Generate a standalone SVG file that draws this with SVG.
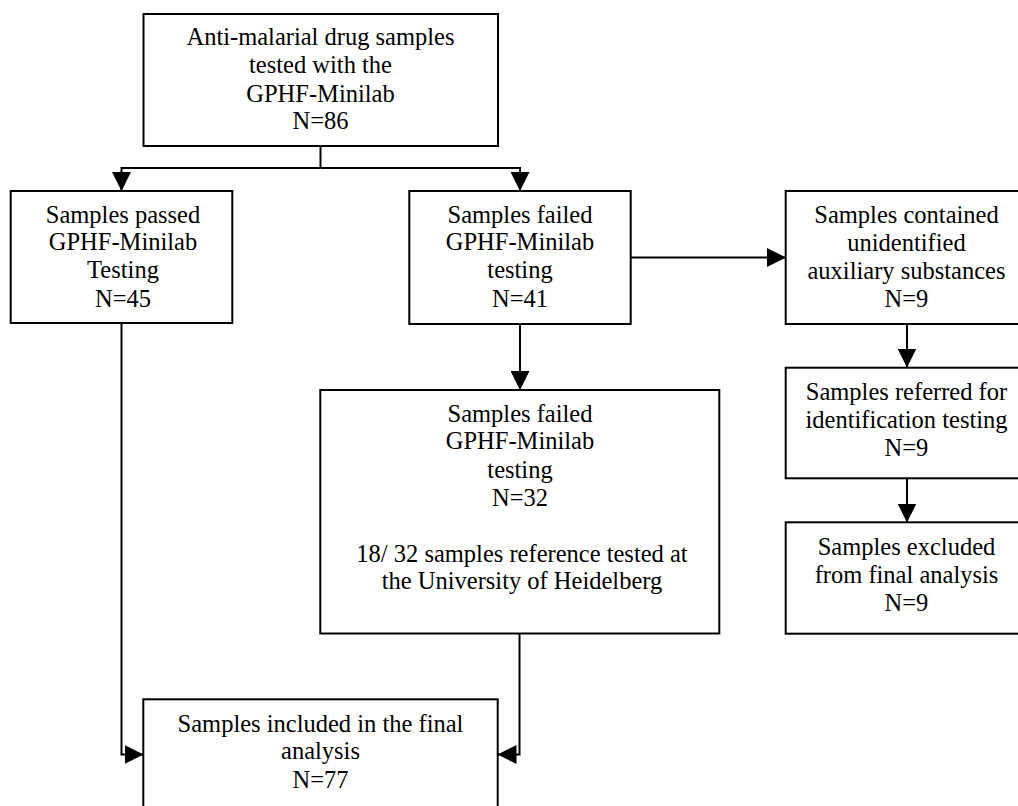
<svg xmlns="http://www.w3.org/2000/svg" width="1018" height="806" viewBox="0 0 1018 806">
<style>
.box{fill:#fff;stroke:#000;stroke-width:2}
.t{font-family:"Liberation Serif","Times New Roman",serif;font-size:24.5px;fill:#000;text-anchor:middle}
.c{fill:none;stroke:#000;stroke-width:2}
</style>
<defs>
<marker id="ah" viewBox="0 0 19 19" markerWidth="19" markerHeight="19" refX="19" refY="9.5" orient="auto" markerUnits="userSpaceOnUse">
<path d="M0,0 L19,9.5 L0,19 z" fill="#000"/>
</marker>
</defs>
<rect width="1018" height="806" fill="#fff"/>
<g id="connectors">
<path class="c" d="M320.5,146 V168"/>
<path class="c" d="M320.5,168 H121.5 V191" marker-end="url(#ah)"/>
<path class="c" d="M320.5,168 H520 V191" marker-end="url(#ah)"/>
<path class="c" d="M631,257.5 H786" marker-end="url(#ah)"/>
<path class="c" d="M520,324 V390" marker-end="url(#ah)"/>
<path class="c" d="M907,324 V367.5" marker-end="url(#ah)"/>
<path class="c" d="M907,478.5 V522.5" marker-end="url(#ah)"/>
<path class="c" d="M121.5,323 V754.5 H143.5" marker-end="url(#ah)"/>
<path class="c" d="M519.5,633.5 V754.5 H497.5" marker-end="url(#ah)"/>
</g>
<g id="top">
<rect class="box" x="143.5" y="14" width="354.5" height="132"/>
<text class="t" x="320.5" y="45">Anti-malarial drug samples</text>
<text class="t" x="320.5" y="73">tested with the</text>
<text class="t" x="320.5" y="101.5">GPHF-Minilab</text>
<text class="t" x="320.5" y="129">N=86</text>
</g>
<g id="passed">
<rect class="box" x="10.7" y="191" width="221.6" height="132"/>
<text class="t" x="123" y="222.7">Samples passed</text>
<text class="t" x="123" y="250">GPHF-Minilab</text>
<text class="t" x="123" y="278.3">Testing</text>
<text class="t" x="123" y="306.7">N=45</text>
</g>
<g id="failed">
<rect class="box" x="409.3" y="191" width="221.4" height="133"/>
<text class="t" x="520" y="222.7">Samples failed</text>
<text class="t" x="520" y="250">GPHF-Minilab</text>
<text class="t" x="520" y="278.3">testing</text>
<text class="t" x="520" y="306.7">N=41</text>
</g>
<g id="auxiliary">
<rect class="box" x="785.7" y="191" width="242" height="133"/>
<text class="t" x="906.5" y="223.3">Samples contained</text>
<text class="t" x="906.5" y="250.7">unidentified</text>
<text class="t" x="906.5" y="279">auxiliary substances</text>
<text class="t" x="906.5" y="307.3">N=9</text>
</g>
<g id="referred">
<rect class="box" x="785.7" y="367.7" width="242" height="110.6"/>
<text class="t" x="906.5" y="400">Samples referred for</text>
<text class="t" x="906.5" y="428.3">identification testing</text>
<text class="t" x="906.5" y="456">N=9</text>
</g>
<g id="excluded">
<rect class="box" x="785.7" y="522.3" width="242" height="111.4"/>
<text class="t" x="906.5" y="555">Samples excluded</text>
<text class="t" x="906.5" y="582.7">from final analysis</text>
<text class="t" x="906.5" y="611">N=9</text>
</g>
<g id="failed32">
<rect class="box" x="320.3" y="390" width="399" height="243.5"/>
<text class="t" x="520" y="421.7">Samples failed</text>
<text class="t" x="520" y="449.3">GPHF-Minilab</text>
<text class="t" x="520" y="477.7">testing</text>
<text class="t" x="520" y="506">N=32</text>
<text class="t" x="522" y="561.7">18/ 32 samples reference tested at</text>
<text class="t" x="522" y="589.3">the University of Heidelberg</text>
</g>
<g id="included">
<rect class="box" x="143.3" y="699.3" width="354.4" height="120"/>
<text class="t" x="320.5" y="731.7">Samples included in the final</text>
<text class="t" x="320.5" y="759.3">analysis</text>
<text class="t" x="320.5" y="787.7">N=77</text>
</g>
</svg>
